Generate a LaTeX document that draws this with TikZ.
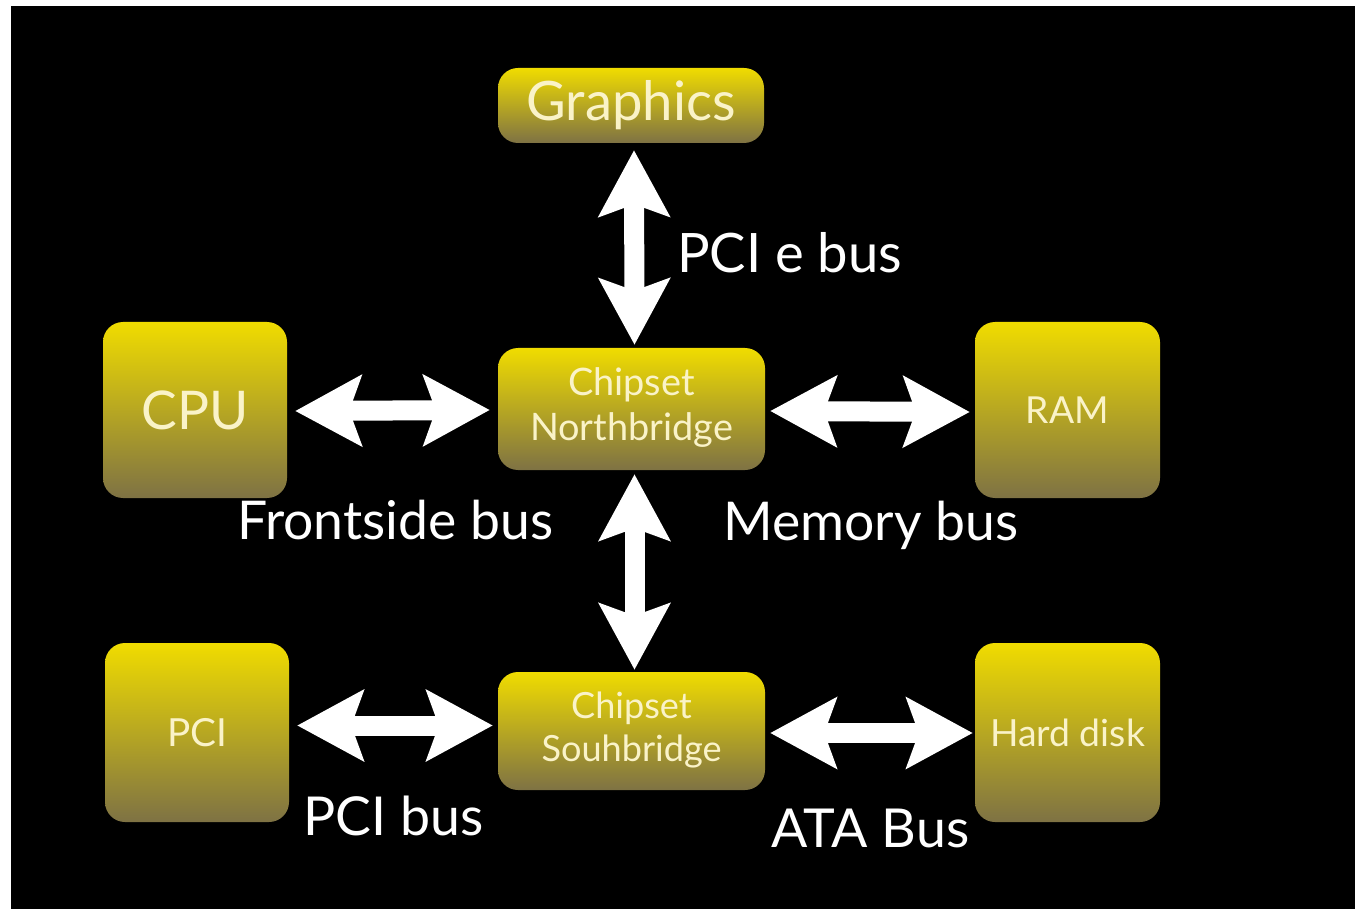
\documentclass[tikz,border=0pt]{standalone}
\usepackage{fontspec}
\setmainfont{Lato}
\usetikzlibrary{arrows.meta}
\definecolor{ytop}{HTML}{F0DC00}
\definecolor{ymid}{HTML}{C8B41E}
\definecolor{ybot}{HTML}{7E7244}
\definecolor{boxtext}{HTML}{FAF3C8}
\newcommand{\fitw}[2]{\resizebox{#1}{!}{#2}}
\newcommand{\twol}[2]{\begin{tabular}{@{}c@{}}#1\\#2\end{tabular}}
\begin{document}
\begin{tikzpicture}[x=1pt,y=-1pt,
  chip/.style={rounded corners=20pt, top color=ytop, middle color=ymid, bottom color=ybot,
    draw=none, text=boxtext, inner sep=0pt},
  bus/.style={draw=white, line width=20pt,
    {Stealth[length=66pt,width=70pt,inset=12pt]}-{Stealth[length=66pt,width=70pt,inset=12pt]}},
  lbl/.style={text=white, inner sep=0pt, anchor=base west}]
\useasboundingbox (0,0) rectangle (1355,909);
\fill[white] (0,0) rectangle (1355,909);
\fill[black] (11,6) rectangle (1355,909);

\node[chip, minimum width=266pt, minimum height=75pt] (gfx) at (631,105.5) {\fitw{209pt}{Graphics}};
\node[chip, minimum width=267pt, minimum height=122pt] (nb) at (631.5,409) {\fitw{203pt}{\twol{Chipset}{Northbridge}}};
\node[chip, minimum width=267pt, minimum height=118pt] (sb) at (631.5,731) {\fitw{180pt}{\twol{Chipset}{Souhbridge}}};
\node[chip, minimum width=184pt, minimum height=176pt] (cpu) at (195,410) {\fitw{107pt}{CPU}};
\node[chip, minimum width=185pt, minimum height=176pt] (ram) at (1067.5,410) {\fitw{83pt}{RAM}};
\node[chip, minimum width=184pt, minimum height=179pt] (pci) at (197,732.5) {\fitw{60pt}{PCI}};
\node[chip, minimum width=185pt, minimum height=179pt] (hd) at (1067.5,732.5) {\fitw{155pt}{Hard disk}};

\draw[bus] ([xshift=3pt,yshift=-7pt]gfx.south) -- ([xshift=3pt,yshift=3pt]nb.north);
\draw[bus] ([xshift=3pt,yshift=-4pt]nb.south) -- ([xshift=3pt,yshift=2pt]sb.north);
\draw[bus] ([xshift=8pt,yshift=-1pt]cpu.east) -- ([xshift=-8pt,yshift=-1pt]nb.west);
\draw[bus] ([xshift=5pt,yshift=-2pt]nb.east) -- ([xshift=-5pt,yshift=-2pt]ram.west);
\draw[bus] ([xshift=8pt,yshift=7pt]pci.east) -- ([xshift=-5pt,yshift=7pt]pci.east -| sb.west);
\draw[bus] ([xshift=5pt,yshift=-2pt]sb.east) -- ([xshift=-2pt,yshift=-2pt]sb.east -| hd.west);

\node[lbl] (l1) at (677,273) {\fitw{225pt}{PCI e bus}};
\node[lbl] (l2) at (237,539) {\fitw{316pt}{Frontside bus}};
\node[lbl] (l3) at (723,540) {\fitw{295pt}{Memory bus}};
\node[lbl] (l4) at (303,835) {\fitw{180pt}{PCI bus}};
\node[lbl] (l5) at (771,847) {\fitw{198pt}{ATA Bus}};
\end{tikzpicture}
\end{document}
